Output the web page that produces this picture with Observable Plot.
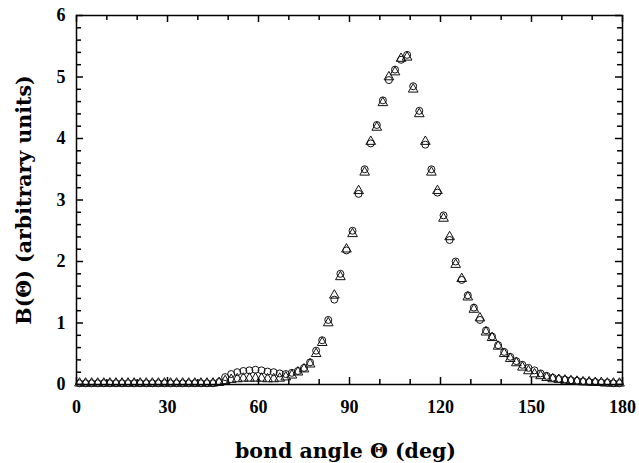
<!DOCTYPE html>
<html><head><meta charset="utf-8">
<script src="https://cdn.jsdelivr.net/npm/d3@7"></script>
<script src="https://cdn.jsdelivr.net/npm/@observablehq/plot@0.6"></script>
<style>body{margin:0;background:#fff}</style>
</head><body><div id="chart"></div>
<script>
const angles = [1,3,5,7,9,11,13,15,17,19,21,23,25,27,29,31,33,35,37,39,41,43,45,
  47,49,51,53,55,57,59,61,63,65,67,69,71,73,75,77,79,81,83,85,87,89,91,93,95,97,99,
  101,103,105,107,109,111,113,115,117,119,121,123,125,127,129,131,133,135,137,139,
  141,143,145,147,149,151,153,155,157,159,161,163,165,167,169,171,173,175,177,179];
const circleValues = [0.02,0.02,0.02,0.02,0.02,0.02,0.02,0.02,0.02,0.02,0.02,0.02,0.02,0.02,0.02,0.02,0.02,0.02,0.02,0.02,0.02,0.02,0.02,
  0.04,0.12,0.17,0.20,0.22,0.23,0.24,0.23,0.21,0.20,0.18,0.17,0.19,0.22,0.27,0.36,0.55,0.72,1.05,1.38,1.80,2.18,2.50,3.10,3.50,3.92,4.22,
  4.62,4.95,5.12,5.28,5.36,4.85,4.45,3.90,3.50,3.12,2.75,2.35,2.00,1.70,1.45,1.25,1.05,0.88,0.78,0.64,
  0.53,0.45,0.38,0.32,0.27,0.23,0.18,0.14,0.11,0.09,0.08,0.07,0.06,0.05,0.04,0.04,0.03,0.03,0.02,0.02];
const triangleValues = [0.02,0.02,0.02,0.02,0.02,0.02,0.02,0.02,0.02,0.02,0.02,0.02,0.02,0.02,0.02,0.02,0.02,0.02,0.02,0.02,0.02,0.02,0.02,
  0.03,0.06,0.08,0.09,0.10,0.10,0.10,0.10,0.09,0.09,0.10,0.12,0.15,0.20,0.25,0.33,0.50,0.68,1.00,1.45,1.75,2.20,2.45,3.15,3.45,3.95,4.18,
  4.58,5.00,5.08,5.30,5.32,4.80,4.40,3.95,3.45,3.15,2.70,2.40,1.95,1.72,1.42,1.22,1.08,0.85,0.76,0.62,
  0.50,0.42,0.35,0.28,0.22,0.17,0.14,0.11,0.09,0.08,0.07,0.06,0.05,0.04,0.04,0.03,0.03,0.02,0.02,0.02];
const xTicks = [0,30,60,90,120,150,180];
const xMinorTicks = [10,20,40,50,70,80,100,110,130,140,160,170];
const yTicks = [0,1,2,3,4,5,6];
const yMinorTicks = [0.2,0.4,0.6,0.8,1.2,1.4,1.6,1.8,2.2,2.4,2.6,2.8,3.2,3.4,3.6,3.8,4.2,4.4,4.6,4.8,5.2,5.4,5.6,5.8];
const xLabel = "bond angle \u0398 (deg)";
const yLabel = "B(\u0398) (arbitrary units)";

const W = 639, H = 463, ML = 76, MR = 17, MT = 15, MB = 79;
const FW = W - ML - MR, FH = H - MT - MB;
const circles = angles.map((a, i) => ({angle: a, value: circleValues[i]}));
const triangles = angles.map((a, i) => ({angle: a, value: triangleValues[i]}));
const fmt = d => String(d);
const font = {fontSize: 18, fontWeight: "bold"};
const labelFont = {fontSize: 20.5, fontWeight: "bold", fontFamily: "'DejaVu Serif', serif", fill: "black"};
const tk = {stroke: "black", strokeWidth: 1.5};

const chart = Plot.plot({
  width: W, height: H,
  marginLeft: ML, marginRight: MR, marginTop: MT, marginBottom: MB,
  style: {fontFamily: "'Liberation Serif', 'DejaVu Serif', serif", color: "black", background: "white"},
  x: {domain: [0, 180]},
  y: {domain: [0, 6]},
  marks: [
    Plot.axisX(xTicks, {anchor: "bottom", tickSize: 0, tickPadding: 16, tickFormat: fmt, label: null, ...font}),
    Plot.axisY(yTicks, {anchor: "left", tickSize: 0, tickPadding: 11, tickFormat: fmt, label: null, ...font}),
    Plot.tickX(xTicks, {x: d => d, insetTop: FH - 7, ...tk}),
    Plot.tickX(xMinorTicks, {x: d => d, insetTop: FH - 5, ...tk}),
    Plot.tickX(xTicks, {x: d => d, insetBottom: FH - 7, ...tk}),
    Plot.tickX(xMinorTicks, {x: d => d, insetBottom: FH - 5, ...tk}),
    Plot.tickY(yTicks, {y: d => d, insetRight: FW - 7, ...tk}),
    Plot.tickY(yMinorTicks, {y: d => d, insetRight: FW - 5, ...tk}),
    Plot.tickY(yTicks, {y: d => d, insetLeft: FW - 7, ...tk}),
    Plot.tickY(yMinorTicks, {y: d => d, insetLeft: FW - 5, ...tk}),
    Plot.frame({stroke: "black", strokeWidth: 1.5}),
    Plot.dot(circles, {x: "angle", y: "value", r: 3.5, stroke: "#111", fill: "none", strokeWidth: 1}),
    Plot.dot(triangles, {x: "angle", y: "value", r: 3.6, symbol: "triangle", stroke: "#111", fill: "none", strokeWidth: 1}),
    Plot.text([xLabel], {frameAnchor: "bottom", textAnchor: "middle", lineAnchor: "bottom", dx: -4, dy: 73, ...labelFont}),
    Plot.text([yLabel], {frameAnchor: "left", textAnchor: "middle", lineAnchor: "middle", dx: -52, rotate: -90, ...labelFont})
  ]
});
document.getElementById("chart").appendChild(chart);
</script>
</body></html>
